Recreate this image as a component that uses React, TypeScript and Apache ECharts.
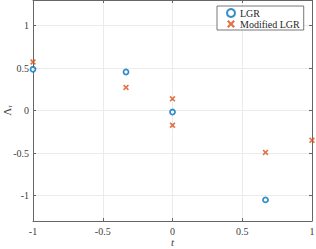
import React, { useEffect, useRef } from "react";
import * as echarts from "echarts";

const lgrT = [-1, -1 / 3, 0, 2 / 3];
const lgrV = [0.485, 0.453, -0.018, -1.052];
const modT = [-1, -1 / 3, 0, 0, 2 / 3, 1];
const modV = [0.571, 0.272, 0.137, -0.174, -0.493, -0.351];
const xTicks = [-1, -0.5, 0, 0.5, 1];
const seriesNames = ["LGR", "Modified LGR"];

const FONT = "Liberation Serif";
const CROSS = "path://M2,0 L5,3 L8,0 L10,2 L7,5 L10,8 L8,10 L5,7 L2,10 L0,8 L3,5 L0,2 Z";

export default function App() {
  const ref = useRef<HTMLDivElement>(null);
  useEffect(() => {
    if (!ref.current) return;
    const chart = echarts.init(ref.current, undefined, { renderer: "svg" });
    const axisLine = { show: true, onZero: false, lineStyle: { color: "#666", width: 1 } };
    const tick = { show: true, inside: true, length: 3, lineStyle: { color: "#666" } };
    chart.setOption({
      animation: false,
      backgroundColor: "#fff",
      textStyle: { fontFamily: FONT },
      grid: { left: 33, right: 4, top: 0, bottom: 28, containLabel: false, outerBoundsMode: "none" },
      xAxis: [
        {
          type: "value",
          min: xTicks[0],
          max: xTicks[xTicks.length - 1],
          interval: 0.5,
          axisLine,
          axisTick: tick,
          axisLabel: { color: "#404040", fontSize: 10, fontFamily: FONT, margin: 5 },
          splitLine: { show: true, lineStyle: { color: "#ebebeb" } },
          name: "t",
          nameLocation: "middle",
          nameGap: 15,
          nameMoveOverlap: false,
          nameTextStyle: { color: "#404040", fontSize: 11, fontFamily: FONT, fontStyle: "italic" },
        },
        {
          type: "value",
          position: "top",
          min: -1,
          max: 1,
          interval: 0.5,
          axisLine,
          axisTick: tick,
          axisLabel: { show: false },
          splitLine: { show: false },
        },
      ],
      yAxis: [
        {
          type: "value",
          min: -1.3,
          max: 1.3,
          splitNumber: 5,
          axisLine,
          axisTick: tick,
          axisLabel: {
            color: "#404040",
            fontSize: 10,
            fontFamily: FONT,
            margin: 4,
            showMinLabel: false,
            showMaxLabel: false,
          },
          splitLine: { show: true, lineStyle: { color: "#ebebeb" } },
          name: "{a|Λ}{b|τ}",
          nameLocation: "middle",
          nameGap: 20,
          nameMoveOverlap: false,
          nameRotate: 90,
          nameTextStyle: {
            color: "#404040",
            fontFamily: FONT,
            rich: {
              a: { fontSize: 11, fontFamily: FONT, color: "#404040" },
              b: { fontSize: 7, fontFamily: FONT, color: "#404040", fontStyle: "italic", padding: [6, 0, 0, 0] },
            },
          },
        },
        {
          type: "value",
          position: "right",
          min: -1.3,
          max: 1.3,
          splitNumber: 5,
          axisLine,
          axisTick: tick,
          axisLabel: { show: false },
          splitLine: { show: false },
        },
      ],
      legend: {
        data: seriesNames,
        orient: "vertical",
        left: 217,
        top: 6,
        itemWidth: 8,
        itemHeight: 8,
        itemGap: 1,
        padding: [2, 4, 1, 9],
        backgroundColor: "#fff",
        borderColor: "#555",
        borderWidth: 0.8,
        borderRadius: 0,
        textStyle: { fontSize: 10, fontFamily: FONT, color: "#262626" },
      },
      series: [
        {
          name: seriesNames[0],
          type: "scatter",
          clip: false,
          symbol: "circle",
          symbolSize: 5,
          itemStyle: { color: "#fff", borderColor: "#0072BD", borderWidth: 1.8 },
          data: lgrT.map((t, i) => [t, lgrV[i]]),
          z: 3,
        },
        {
          name: seriesNames[1],
          type: "scatter",
          clip: false,
          symbol: CROSS,
          symbolSize: 6,
          itemStyle: { color: "#D95319" },
          data: modT.map((t, i) => [t, modV[i]]),
          z: 2,
        },
      ],
    });
    return () => chart.dispose();
  }, []);
  return <div ref={ref} style={{ width: 316, height: 249, position: "absolute", left: 0, top: 0 }} />;
}
